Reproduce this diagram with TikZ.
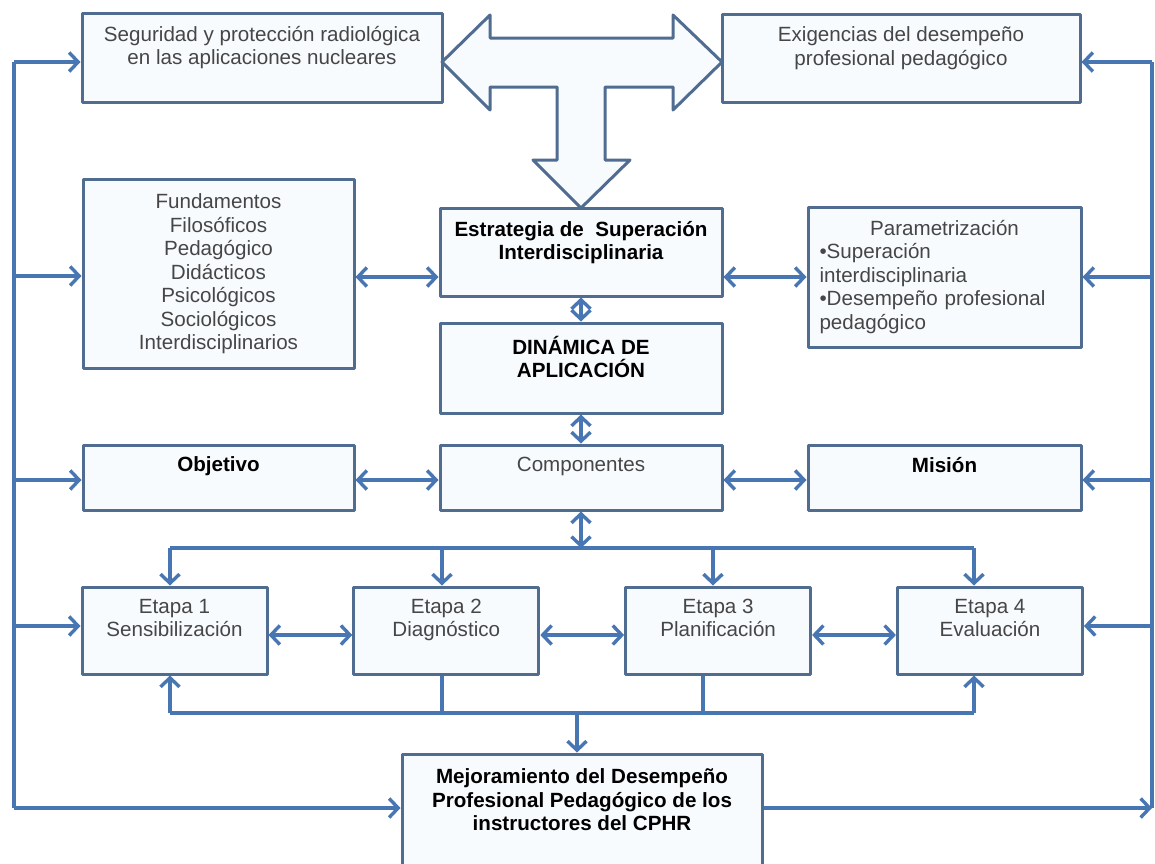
\documentclass[tikz,border=0pt]{standalone}
\usepackage{fontspec}
\setmainfont{Liberation Sans}
\usetikzlibrary{arrows.meta,positioning}
\definecolor{boxline}{RGB}{80,108,145}
\definecolor{linkblue}{RGB}{72,118,178}
\definecolor{boxfill}{RGB}{248,251,254}
\definecolor{txtgray}{RGB}{70,70,70}
\begin{document}
\begin{tikzpicture}[>={Straight Barb[length=4.5pt,width=9.5pt]},x=0.5pt,y=-0.5pt,line join=round,node distance=41.9pt]
\tikzstyle{box}=[draw=boxline,fill=boxfill,line width=1.5pt,inner sep=0pt]
\tikzstyle{txt}=[align=center,inner sep=0pt,text=txtgray,font=\fontsize{10.3}{11.75}\selectfont]
\tikzstyle{btxt}=[txt,text=black,font=\fontsize{10.3}{11.75}\selectfont\bfseries]
\tikzstyle{link}=[draw=linkblue,line width=1.7pt]
\useasboundingbox (0,0) rectangle (1155,863);

% top row
\node[box,minimum width=180pt,minimum height=44.5pt] (seg) at (262,57.5) {};
\node[txt,below=7pt of seg.north] (segT) {Seguridad y protección radiológica\\en las aplicaciones nucleares};
\node[box,minimum width=179pt,minimum height=44pt] (exig) at (901,58) {};
\node[txt,below=7pt of exig.north] (exigT) {Exigencias del desempeño\\profesional pedagógico};
\draw[draw=boxline,fill=boxfill,line width=1.5pt] (442,62) -- (490,15) -- (490,38) -- (673,38) -- (673,15) -- (722,62)
  -- (673,110) -- (673,87) -- (605,87) -- (605,160) -- (630,160) -- (581,208) -- (533,160) -- (557,160)
  -- (557,87) -- (490,87) -- (490,110) -- cycle;

% middle
\node[box,minimum width=135.5pt,minimum height=94.5pt] (fund) at (218.5,273.5) {};
\node[txt,below=8pt of fund.north] (fundT) {Fundamentos\\Filosóficos\\Pedagógico\\Didácticos\\Psicológicos\\Sociológicos\\Interdisciplinarios};
\node[box,minimum width=141pt,minimum height=44pt] (estr) at (581,252) {};
\node[btxt,below=7pt of estr.north] (estrT) {Estrategia de~ Superación\\Interdisciplinaria};
\node[box,minimum width=136.5pt,minimum height=70pt] (param) at (944.5,277) {};
\node[txt,align=left,text width=125pt,below=7pt of param.north] (paramT) {\makebox[125pt]{Parametrización}\\•Superación\\interdisciplinaria\\•Desempeño profesional\\pedagógico};
\node[box,minimum width=141pt,minimum height=45pt] (din) at (581,368) {};
\node[btxt,below=7pt of din.north] (dinT) {DINÁMICA DE\\APLICACIÓN};
\node[box,minimum width=141pt,minimum height=32.5pt] (comp) at (581,477.5) {};
\node[txt,below=6.5pt of comp.north] (compT) {Componentes};
\node[box,minimum width=135.5pt,minimum height=32.5pt,left=41.5pt of comp] (obj) {};
\node[btxt,below=6.5pt of obj.north] (objT) {Objetivo};
\node[box,minimum width=136.5pt,minimum height=32.5pt,right=41.5pt of comp] (mis) {};
\node[btxt,below=6.5pt of mis.north] (misT) {Misión};

% etapas
\node[box,minimum width=92.5pt,minimum height=43.5pt] (e1) at (174.5,630.5) {};
\node[box,minimum width=92.5pt,minimum height=43.5pt,right=of e1] (e2) {};
\node[box,minimum width=92.5pt,minimum height=43.5pt,right=of e2] (e3) {};
\node[box,minimum width=92.5pt,minimum height=43.5pt,right=of e3] (e4) {};
\node[txt,below=6.5pt of e1.north] (e1T) {Etapa 1\\Sensibilización};
\node[txt,below=6.5pt of e2.north] (e2T) {Etapa 2\\Diagnóstico};
\node[txt,below=6.5pt of e3.north] (e3T) {Etapa 3\\Planificación};
\node[txt,below=6.5pt of e4.north] (e4T) {Etapa 4\\Evaluación};
\node[box,minimum width=180pt,minimum height=65pt] (mej) at (582,819) {};
\node[btxt,below=8pt of mej.north] (mejT) {Mejoramiento del Desempeño\\Profesional Pedagógico de los\\instructores del CPHR};

% side lines
\coordinate (lt) at (14,62);
\coordinate (lb) at (14,808);
\coordinate (rt) at (1152,62);
\coordinate (rb) at (1152,808);
\draw[link] (lt) -- (lb);
\draw[link] (rt) -- (rb);
\foreach \n/\y in {seg/62,fund/276,obj/480,e1/626,mej/808}
  \draw[link,->] (lb |- 0,\y) -- (\n.west |- 0,\y);
\foreach \n/\y in {exig/62,param/277,mis/480,e4/626}
  \draw[link,->] (rb |- 0,\y) -- (\n.east |- 0,\y);
\draw[link,->] (mej.east |- rb) -- (rb);

% two-way links
\draw[link,<->] (fund.east |- 0,277) -- (estr.west |- 0,277);
\draw[link,<->] (estr.east |- 0,277) -- (param.west |- 0,277);
\draw[link,<->] (obj.east |- 0,480) -- (comp.west |- 0,480);
\draw[link,<->] (comp.east |- 0,480) -- (mis.west |- 0,480);
\draw[link,<->] (estr.south) -- (din.north);
\draw[link,<->] (din.south) -- (comp.north);
\foreach \a/\b in {e1/e2,e2/e3,e3/e4}
  \draw[link,<->] (\a.east |- 0,635) -- (\b.west |- 0,635);

% buses
\coordinate (tb1) at (170,548);
\coordinate (tb4) at (974,548);
\draw[link,<->] (comp.south) -- (comp.south |- tb1);
\draw[link] (tb1) -- (tb4);
\foreach \n/\x in {e1/170,e2/442,e3/713,e4/974}
  \draw[link,->] (\x,548) -- (\n.north -| \x,0);
\coordinate (bb1) at (170,713);
\coordinate (bb4) at (974,713);
\draw[link] (bb1) -- (bb4);
\draw[link,->] (bb1 -| 577,0) -- (mej.north -| 577,0);
\draw[link,->] (bb4) -- (bb4 |- e4.south);
\draw[link,->] (bb1) -- (bb1 |- e1.south);
\draw[link] (e2.south -| 442,0) -- (442,713);
\draw[link] (e3.south -| 703,0) -- (703,713);
\end{tikzpicture}
\end{document}
